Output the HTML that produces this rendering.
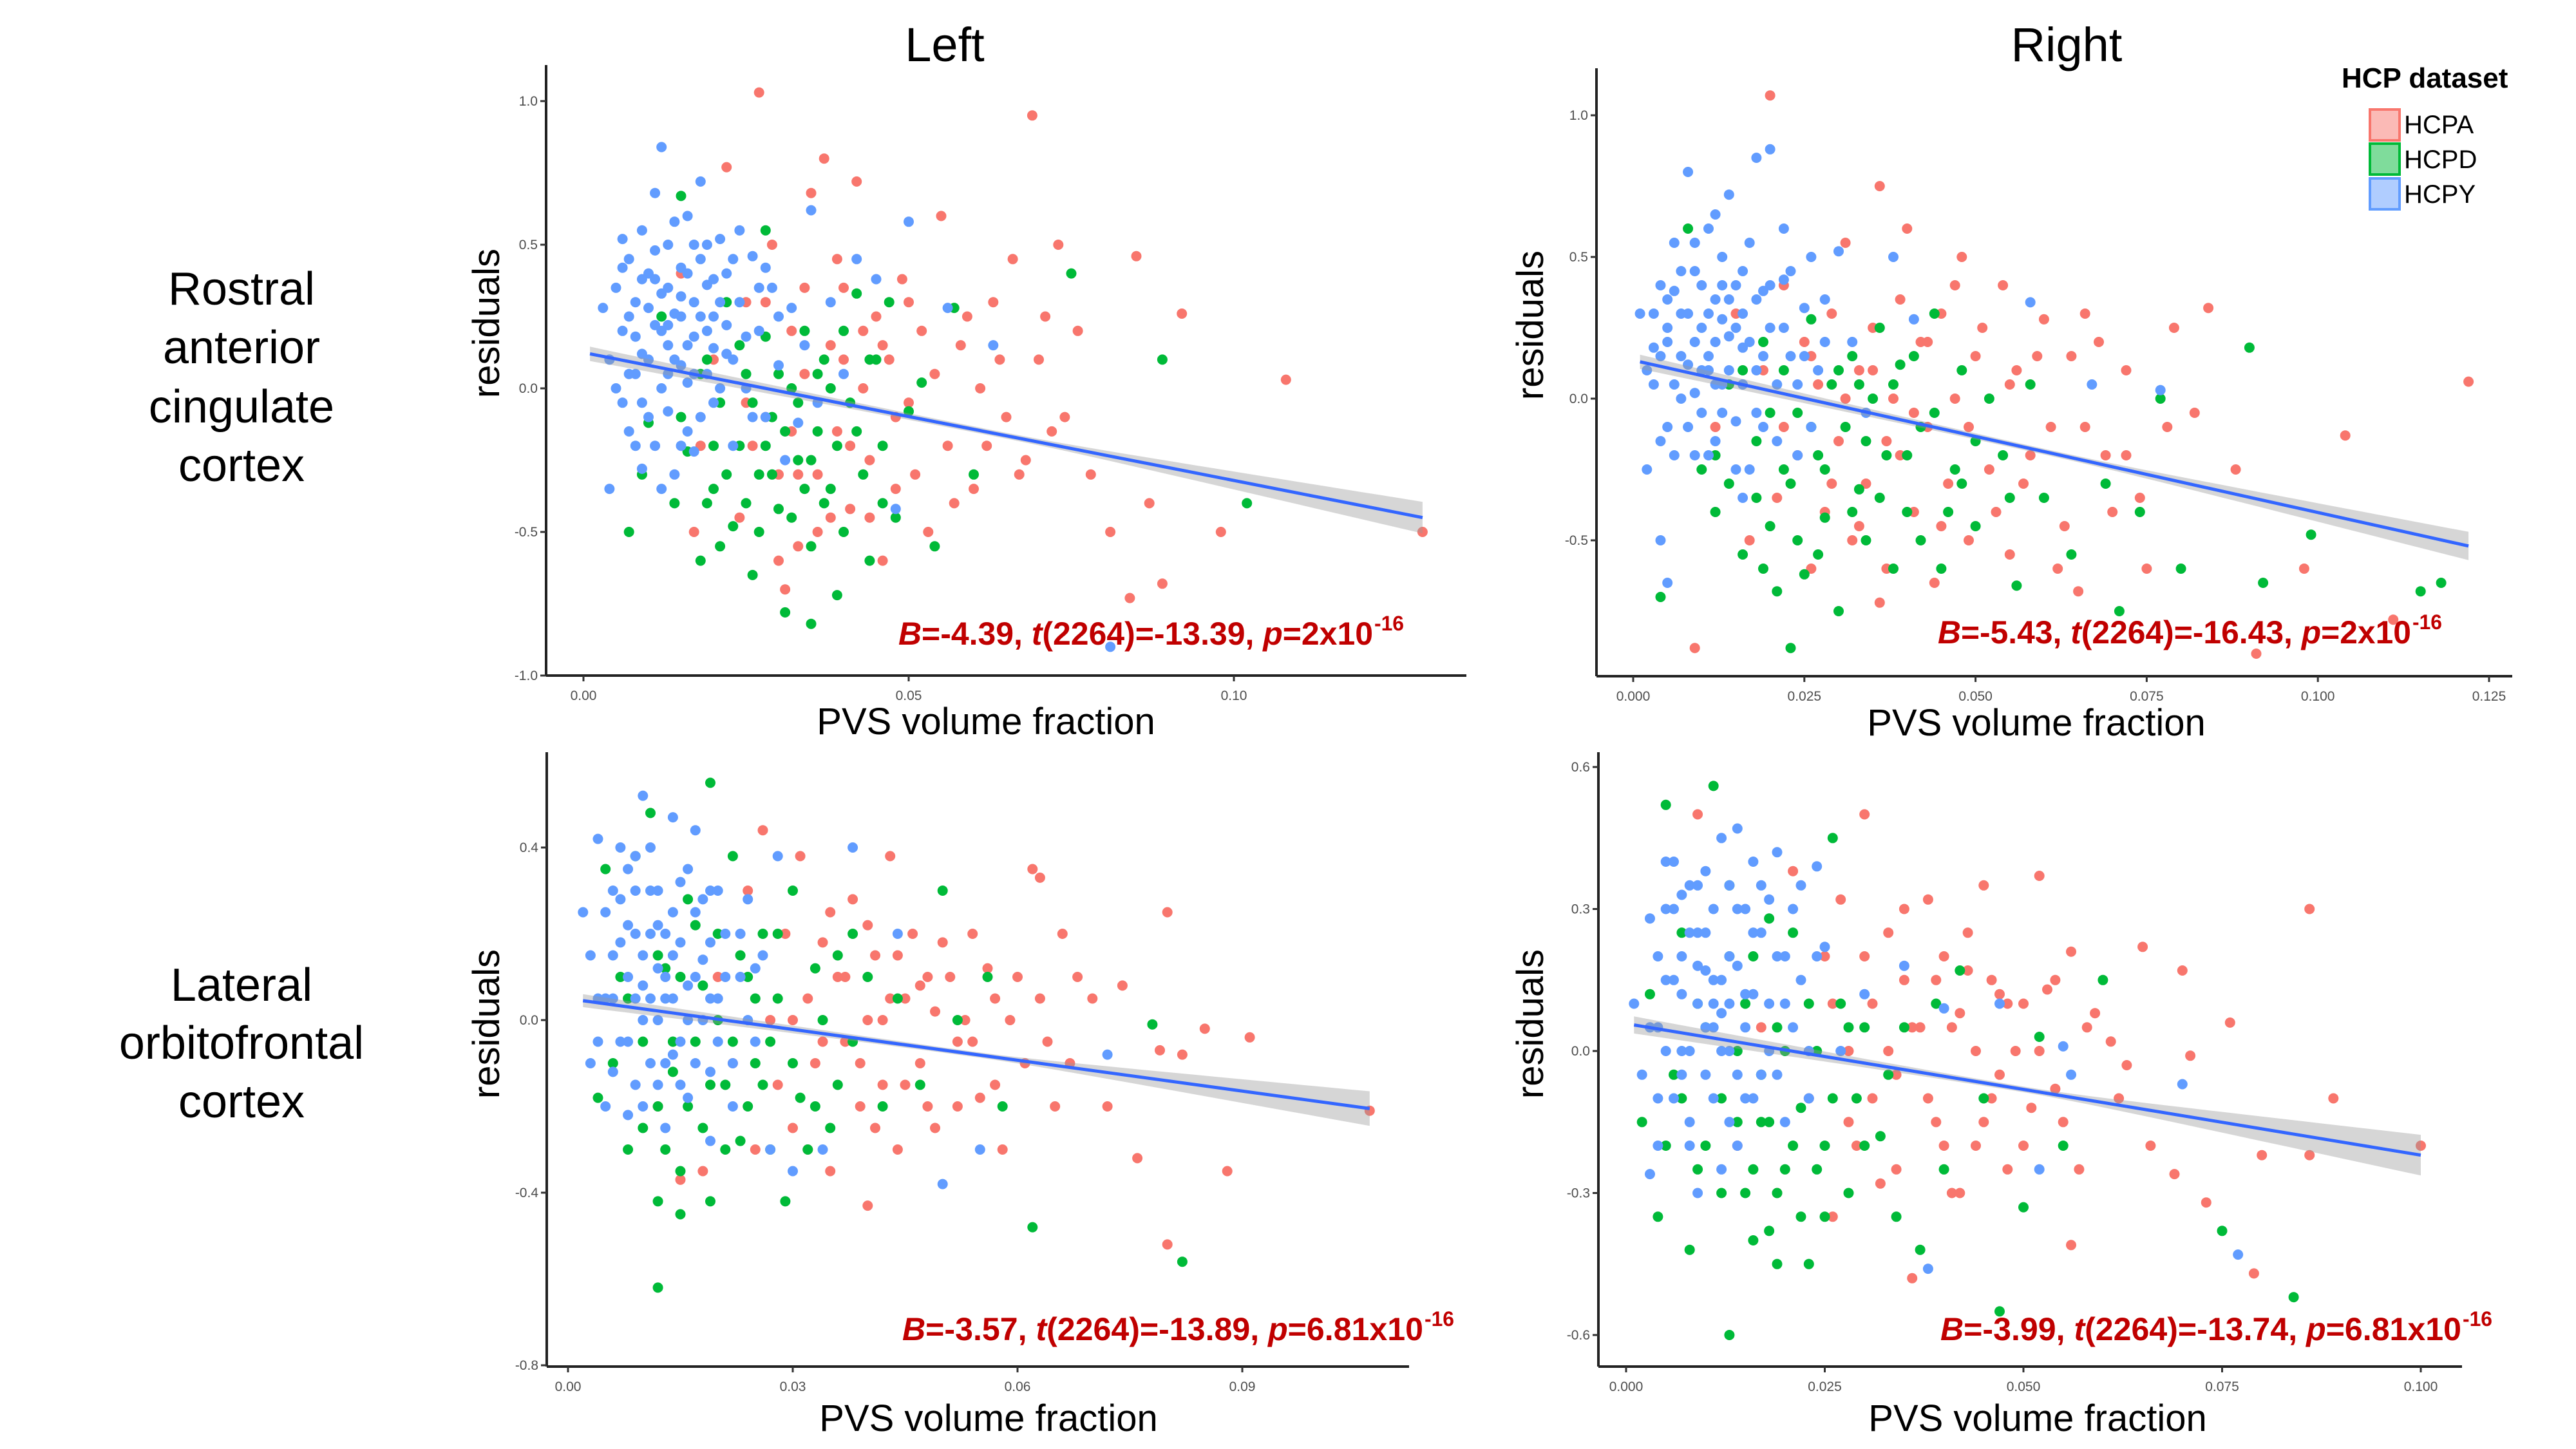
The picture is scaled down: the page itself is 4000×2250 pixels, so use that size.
<!DOCTYPE html>
<html><head><meta charset="utf-8">
<style>
html,body{margin:0;padding:0;background:#fff;}
svg{display:block;font-family:"Liberation Sans",Arial,sans-serif;}
</style></head>
<body>
<svg id="fig" width="4000" height="2250" viewBox="0 0 4000 2250" xmlns="http://www.w3.org/2000/svg">
<rect width="4000" height="2250" fill="#fff"/>
<text x="1467" y="95" font-size="74" text-anchor="middle">Left</text>
<text x="3209" y="95" font-size="74" text-anchor="middle">Right</text>
<g font-size="72" text-anchor="middle">
<text x="375" y="473">Rostral</text><text x="375" y="564">anterior</text><text x="375" y="656">cingulate</text><text x="375" y="747">cortex</text></g>
<g font-size="72" text-anchor="middle">
<text x="375" y="1554">Lateral</text><text x="375" y="1644">orbitofrontal</text><text x="375" y="1735">cortex</text></g>
<g>
<text x="3636" y="136" font-size="44" font-weight="bold">HCP dataset</text>
<rect x="3680" y="170" width="46" height="48" fill="#F8766D" fill-opacity="0.5" stroke="#F8766D" stroke-width="4"/>
<text x="3733" y="207" font-size="40">HCPA</text>
<rect x="3680" y="223" width="46" height="48" fill="#00BA38" fill-opacity="0.5" stroke="#00BA38" stroke-width="4"/>
<text x="3733" y="261" font-size="40">HCPD</text>
<rect x="3680" y="277" width="46" height="48" fill="#619CFF" fill-opacity="0.5" stroke="#619CFF" stroke-width="4"/>
<text x="3733" y="315" font-size="40">HCPY</text>
</g>
</svg>
<script>
// ---- data (x = PVS volume fraction, y = residuals) ----
const tlA=[[0.015,0.4],[0.018,-0.2],[0.020,0.1],[0.022,0.77],[0.024,-0.45],[0.025,0.3],[0.027,1.03],[0.028,-0.1],[0.029,0.5],[0.030,-0.6],[0.032,0.2],[0.033,-0.3],[0.034,0.05],[0.035,0.68],[0.036,-0.5],[0.038,0.15],[0.039,-0.15],[0.040,0.35],[0.041,-0.42],[0.042,0.72],[0.043,0.0],[0.044,-0.25],[0.045,0.25],[0.046,-0.6],[0.047,0.1],[0.048,-0.35],[0.049,0.38],[0.050,-0.05],[0.052,0.2],[0.053,-0.5],[0.055,0.6],[0.056,-0.2],[0.058,0.15],[0.060,-0.35],[0.061,0.0],[0.063,0.3],[0.065,-0.1],[0.066,0.45],[0.068,-0.25],[0.069,0.95],[0.070,0.1],[0.072,-0.15],[0.073,0.5],[0.076,0.2],[0.078,-0.3],[0.081,-0.5],[0.085,0.46],[0.087,-0.4],[0.089,-0.68],[0.092,0.26],[0.098,-0.5],[0.108,0.03],[0.129,-0.5],[0.084,-0.73],[0.037,0.8],[0.031,-0.7],[0.026,-0.2],[0.017,-0.5]];
const tlA2=[[0.025,-0.05],[0.028,0.3],[0.030,-0.3],[0.032,-0.15],[0.034,0.35],[0.036,-0.3],[0.038,-0.45],[0.040,0.1],[0.041,-0.2],[0.043,0.2],[0.044,-0.45],[0.046,0.15],[0.048,-0.1],[0.050,0.3],[0.051,-0.3],[0.054,0.05],[0.057,-0.4],[0.059,0.25],[0.062,-0.2],[0.064,0.1],[0.067,-0.3],[0.071,0.25],[0.074,-0.1],[0.033,-0.55],[0.039,0.45]];
const tlD=[[0.007,-0.5],[0.009,-0.3],[0.010,-0.12],[0.012,0.25],[0.014,-0.4],[0.015,0.67],[0.016,-0.22],[0.018,-0.6],[0.019,0.1],[0.020,-0.35],[0.021,-0.05],[0.022,0.3],[0.023,-0.48],[0.024,-0.2],[0.025,0.05],[0.026,-0.65],[0.027,-0.3],[0.028,0.18],[0.029,-0.1],[0.030,-0.42],[0.031,-0.78],[0.032,0.0],[0.033,-0.25],[0.034,0.2],[0.035,-0.55],[0.036,-0.15],[0.037,0.1],[0.038,-0.35],[0.039,-0.72],[0.040,0.2],[0.041,-0.05],[0.042,0.33],[0.043,-0.3],[0.044,-0.6],[0.045,0.1],[0.046,-0.2],[0.047,0.3],[0.048,-0.45],[0.050,-0.08],[0.052,0.02],[0.054,-0.55],[0.057,0.28],[0.060,-0.3],[0.075,0.4],[0.089,0.1],[0.102,-0.4],[0.028,0.55],[0.035,-0.82],[0.019,-0.4]];
const tlD2=[[0.015,-0.1],[0.018,0.05],[0.020,-0.2],[0.022,-0.3],[0.024,0.15],[0.025,-0.4],[0.026,-0.05],[0.027,-0.5],[0.029,-0.3],[0.030,0.05],[0.032,-0.45],[0.033,-0.05],[0.034,-0.35],[0.036,0.05],[0.037,-0.4],[0.039,-0.2],[0.040,-0.5],[0.042,-0.15],[0.044,0.1],[0.046,-0.4],[0.021,-0.55],[0.028,-0.2],[0.031,-0.15],[0.035,-0.25],[0.038,0.0]];
const tlY=[[0.003,0.28],[0.004,0.1],[0.005,0.35],[0.006,-0.05],[0.006,0.2],[0.007,0.45],[0.007,0.05],[0.008,-0.2],[0.008,0.3],[0.009,0.55],[0.009,0.12],[0.010,-0.1],[0.010,0.4],[0.011,0.22],[0.011,0.68],[0.012,0.0],[0.012,0.33],[0.013,0.5],[0.013,0.15],[0.014,-0.3],[0.014,0.26],[0.015,0.42],[0.015,0.08],[0.016,0.6],[0.016,-0.15],[0.017,0.3],[0.017,0.18],[0.018,0.72],[0.018,0.45],[0.019,0.05],[0.019,0.36],[0.020,-0.05],[0.020,0.25],[0.021,0.52],[0.022,0.12],[0.022,0.4],[0.023,-0.2],[0.024,0.3],[0.025,0.0],[0.026,0.46],[0.027,0.2],[0.028,-0.1],[0.029,0.35],[0.030,0.08],[0.031,-0.25],[0.032,0.28],[0.034,0.15],[0.035,0.62],[0.036,-0.05],[0.038,0.3],[0.040,0.05],[0.042,0.45],[0.045,0.38],[0.050,0.58],[0.056,0.28],[0.063,0.15],[0.012,0.84],[0.004,-0.35],[0.009,-0.28],[0.016,0.02],[0.020,0.14],[0.006,0.52],[0.013,-0.08],[0.024,0.55],[0.011,0.38],[0.017,-0.22],[0.028,0.42],[0.033,-0.12],[0.048,-0.42],[0.081,-0.9]];
const tlY2=[[0.005,0.0],[0.006,0.42],[0.007,-0.15],[0.008,0.18],[0.009,0.38],[0.010,0.1],[0.010,0.28],[0.011,-0.2],[0.011,0.48],[0.012,0.2],[0.012,-0.35],[0.013,0.35],[0.013,0.05],[0.014,0.58],[0.014,0.1],[0.015,0.25],[0.015,-0.2],[0.016,0.4],[0.016,0.15],[0.017,0.5],[0.017,0.05],[0.018,0.25],[0.018,-0.1],[0.019,0.2],[0.019,0.5],[0.020,0.38],[0.021,0.0],[0.021,0.3],[0.022,0.22],[0.023,0.45],[0.023,0.1],[0.025,0.18],[0.026,-0.1],[0.027,0.35],[0.030,0.25],[0.008,0.05],[0.007,0.25],[0.013,0.22],[0.015,0.32],[0.009,-0.05]];
const trA=[[0.009,-0.88],[0.012,-0.1],[0.015,0.3],[0.017,-0.5],[0.019,0.1],[0.020,1.07],[0.021,-0.35],[0.022,0.4],[0.024,-0.2],[0.025,0.2],[0.026,-0.6],[0.027,0.05],[0.028,-0.4],[0.029,0.3],[0.030,-0.15],[0.031,0.55],[0.032,-0.5],[0.033,0.1],[0.034,-0.3],[0.035,0.25],[0.036,0.75],[0.037,-0.6],[0.038,0.0],[0.039,-0.2],[0.040,0.6],[0.041,-0.4],[0.042,0.2],[0.043,-0.1],[0.044,-0.65],[0.045,0.3],[0.046,-0.3],[0.047,0.0],[0.048,0.5],[0.049,-0.5],[0.050,0.15],[0.052,-0.25],[0.054,0.4],[0.055,-0.55],[0.056,0.1],[0.058,-0.2],[0.060,0.28],[0.062,-0.6],[0.064,0.15],[0.066,-0.1],[0.068,0.2],[0.070,-0.4],[0.072,-0.2],[0.075,-0.6],[0.079,0.25],[0.082,-0.05],[0.084,0.32],[0.088,-0.25],[0.091,-0.9],[0.098,-0.6],[0.104,-0.13],[0.111,-0.78],[0.122,0.06],[0.065,-0.68],[0.036,-0.72]];
const trA2=[[0.022,-0.1],[0.026,0.15],[0.029,-0.3],[0.031,0.0],[0.033,-0.45],[0.035,0.1],[0.037,-0.15],[0.039,0.35],[0.041,-0.05],[0.043,0.2],[0.045,-0.45],[0.047,0.4],[0.049,-0.1],[0.051,0.25],[0.053,-0.4],[0.055,0.05],[0.057,-0.3],[0.059,0.15],[0.061,-0.1],[0.063,-0.45],[0.066,0.3],[0.069,-0.2],[0.072,0.1],[0.074,-0.35],[0.078,-0.1]];
const trD=[[0.004,-0.7],[0.008,0.6],[0.010,-0.25],[0.012,-0.4],[0.014,0.05],[0.016,-0.55],[0.018,-0.15],[0.019,0.2],[0.020,-0.45],[0.021,-0.68],[0.022,0.1],[0.023,-0.3],[0.024,-0.05],[0.025,-0.62],[0.026,0.28],[0.027,-0.2],[0.028,-0.42],[0.029,0.05],[0.030,-0.75],[0.031,-0.1],[0.032,0.15],[0.033,-0.32],[0.034,-0.5],[0.035,0.0],[0.036,0.25],[0.037,-0.2],[0.038,-0.6],[0.039,0.12],[0.040,-0.4],[0.042,-0.1],[0.044,0.3],[0.045,-0.6],[0.047,-0.25],[0.048,0.1],[0.050,-0.45],[0.052,0.0],[0.054,-0.2],[0.056,-0.66],[0.058,0.05],[0.060,-0.35],[0.064,-0.55],[0.069,-0.3],[0.071,-0.75],[0.074,-0.4],[0.077,0.0],[0.080,-0.6],[0.090,0.18],[0.092,-0.65],[0.099,-0.48],[0.115,-0.68],[0.118,-0.65],[0.023,-0.88]];
const trD2=[[0.012,-0.2],[0.014,-0.3],[0.016,0.1],[0.018,-0.35],[0.020,-0.05],[0.022,-0.25],[0.024,-0.5],[0.026,-0.1],[0.028,-0.25],[0.030,0.1],[0.032,-0.4],[0.034,-0.15],[0.036,-0.35],[0.038,0.05],[0.040,-0.2],[0.042,-0.5],[0.044,-0.05],[0.046,-0.4],[0.050,-0.15],[0.055,-0.35],[0.019,-0.6],[0.027,-0.55],[0.033,0.05],[0.041,0.15],[0.048,-0.3]];
const trY=[[0.001,0.3],[0.002,-0.25],[0.003,0.05],[0.004,0.4],[0.005,-0.1],[0.005,0.2],[0.006,0.55],[0.007,0.0],[0.007,0.3],[0.008,0.8],[0.008,0.12],[0.009,-0.2],[0.009,0.45],[0.010,0.25],[0.010,-0.05],[0.011,0.6],[0.011,0.15],[0.012,0.35],[0.012,-0.15],[0.013,0.05],[0.013,0.5],[0.014,0.22],[0.014,0.72],[0.015,-0.08],[0.015,0.4],[0.016,0.18],[0.016,0.3],[0.017,-0.25],[0.017,0.55],[0.018,0.1],[0.018,0.85],[0.019,0.38],[0.019,-0.1],[0.020,0.25],[0.020,0.88],[0.021,0.05],[0.022,0.42],[0.023,0.15],[0.024,-0.2],[0.025,0.32],[0.026,0.5],[0.027,0.1],[0.028,0.35],[0.030,0.52],[0.032,0.2],[0.034,-0.05],[0.038,0.5],[0.041,0.28],[0.058,0.34],[0.067,0.05],[0.077,0.03],[0.004,-0.5],[0.005,-0.65],[0.011,0.1],[0.013,0.28],[0.009,0.02],[0.016,-0.35],[0.006,0.38],[0.012,0.65],[0.022,0.6],[0.003,0.18]];
const trY2=[[0.002,0.1],[0.003,0.3],[0.004,-0.15],[0.004,0.15],[0.005,0.35],[0.006,0.05],[0.006,-0.2],[0.007,0.45],[0.007,0.15],[0.008,-0.1],[0.008,0.3],[0.009,0.2],[0.009,0.55],[0.010,0.1],[0.010,0.4],[0.011,-0.2],[0.011,0.3],[0.012,0.05],[0.012,0.2],[0.013,-0.05],[0.013,0.4],[0.014,0.1],[0.014,0.35],[0.015,0.25],[0.015,-0.25],[0.016,0.45],[0.016,0.05],[0.017,0.2],[0.018,0.35],[0.018,-0.05],[0.019,0.15],[0.020,0.4],[0.021,-0.15],[0.022,0.25],[0.023,0.45],[0.024,0.05],[0.025,0.15],[0.026,-0.1],[0.028,0.2],[0.005,0.25]];
const blA=[[0.012,-0.2],[0.015,-0.37],[0.018,-0.35],[0.020,0.1],[0.022,-0.1],[0.024,0.3],[0.025,-0.3],[0.026,0.44],[0.027,0.0],[0.028,-0.15],[0.029,0.2],[0.030,-0.25],[0.031,0.38],[0.032,0.05],[0.033,-0.1],[0.034,0.18],[0.035,-0.35],[0.036,0.1],[0.037,-0.05],[0.038,0.28],[0.039,-0.2],[0.040,0.0],[0.041,0.15],[0.042,-0.15],[0.043,0.38],[0.044,-0.3],[0.045,0.05],[0.046,0.2],[0.047,-0.1],[0.048,0.1],[0.049,-0.25],[0.050,0.18],[0.052,-0.05],[0.053,0.0],[0.054,0.2],[0.055,-0.18],[0.057,0.05],[0.058,-0.3],[0.060,0.1],[0.062,0.35],[0.064,-0.05],[0.066,0.2],[0.067,-0.1],[0.070,0.05],[0.072,-0.2],[0.074,0.08],[0.076,-0.32],[0.079,-0.07],[0.080,0.25],[0.082,-0.08],[0.085,-0.02],[0.088,-0.35],[0.091,-0.04],[0.107,-0.21],[0.080,-0.52],[0.040,-0.43],[0.063,0.33]];
const blA2=[[0.030,0.0],[0.032,-0.3],[0.034,-0.05],[0.035,0.25],[0.037,0.1],[0.039,-0.1],[0.040,0.22],[0.041,-0.25],[0.043,0.05],[0.044,0.15],[0.045,-0.15],[0.047,0.08],[0.048,-0.2],[0.049,0.02],[0.051,0.1],[0.052,-0.2],[0.054,-0.05],[0.056,0.12],[0.057,-0.15],[0.059,0.0],[0.061,-0.1],[0.063,0.05],[0.065,-0.2],[0.068,0.1],[0.042,0.0]];
const blD=[[0.004,-0.18],[0.005,0.35],[0.006,-0.1],[0.007,0.1],[0.008,-0.3],[0.009,0.38],[0.010,-0.05],[0.011,0.48],[0.012,-0.2],[0.012,-0.42],[0.013,0.12],[0.014,-0.12],[0.015,-0.35],[0.016,0.28],[0.017,-0.05],[0.018,-0.25],[0.019,0.55],[0.020,0.0],[0.021,-0.15],[0.022,0.38],[0.023,-0.28],[0.024,0.1],[0.025,-0.1],[0.026,0.2],[0.027,-0.3],[0.028,0.05],[0.029,-0.42],[0.030,0.3],[0.031,-0.18],[0.033,0.12],[0.035,-0.25],[0.036,0.15],[0.038,-0.05],[0.040,0.1],[0.042,-0.2],[0.044,0.05],[0.047,-0.15],[0.050,0.3],[0.052,0.0],[0.056,0.1],[0.058,-0.2],[0.062,-0.48],[0.082,-0.56],[0.078,-0.01],[0.012,-0.62],[0.015,-0.45],[0.019,-0.42]];
const blD2=[[0.008,0.05],[0.010,-0.25],[0.012,0.15],[0.014,-0.05],[0.016,-0.2],[0.018,0.08],[0.019,-0.15],[0.020,0.2],[0.021,-0.3],[0.022,-0.05],[0.023,0.15],[0.024,-0.2],[0.025,0.05],[0.026,-0.15],[0.028,0.2],[0.030,-0.1],[0.032,-0.3],[0.034,0.0],[0.036,-0.15],[0.038,0.2],[0.015,0.1],[0.017,0.22],[0.013,-0.3],[0.027,-0.05],[0.033,-0.2]];
const blY=[[0.002,0.25],[0.003,-0.1],[0.004,0.42],[0.004,0.05],[0.005,-0.2],[0.006,0.15],[0.007,0.28],[0.007,-0.05],[0.008,0.1],[0.008,0.35],[0.009,-0.15],[0.009,0.2],[0.010,0.52],[0.010,0.0],[0.011,0.3],[0.011,-0.1],[0.012,0.12],[0.012,0.22],[0.013,0.05],[0.013,-0.25],[0.014,0.47],[0.014,0.15],[0.015,-0.05],[0.015,0.32],[0.016,0.08],[0.016,-0.18],[0.017,0.25],[0.017,0.44],[0.018,0.0],[0.018,0.14],[0.019,-0.12],[0.019,0.3],[0.020,0.05],[0.021,0.2],[0.022,-0.2],[0.023,0.1],[0.024,0.28],[0.025,-0.05],[0.026,0.15],[0.027,-0.3],[0.028,0.38],[0.030,-0.35],[0.034,-0.3],[0.038,0.4],[0.044,0.2],[0.050,-0.38],[0.055,-0.3],[0.072,-0.08],[0.006,0.3],[0.011,0.05],[0.014,-0.08],[0.009,0.38],[0.019,-0.28],[0.008,-0.22],[0.013,0.2]];
const blY2=[[0.003,0.15],[0.004,-0.05],[0.005,0.25],[0.005,0.05],[0.006,-0.12],[0.007,0.18],[0.007,0.4],[0.008,-0.05],[0.008,0.22],[0.009,0.05],[0.009,0.3],[0.010,0.15],[0.010,-0.2],[0.011,0.2],[0.011,0.4],[0.012,0.0],[0.012,0.3],[0.013,0.1],[0.013,-0.1],[0.014,0.25],[0.014,0.05],[0.015,0.18],[0.015,-0.15],[0.016,0.35],[0.016,0.0],[0.017,0.1],[0.017,-0.1],[0.018,0.28],[0.019,0.05],[0.019,0.18],[0.020,-0.05],[0.020,0.3],[0.021,0.1],[0.022,-0.1],[0.023,0.2],[0.024,0.0],[0.025,0.12],[0.010,0.08],[0.012,-0.15],[0.006,0.05]];
const brA=[[0.009,0.5],[0.014,-0.2],[0.017,0.05],[0.019,-0.3],[0.021,0.38],[0.023,-0.1],[0.025,0.2],[0.026,-0.35],[0.027,0.32],[0.028,0.0],[0.029,-0.2],[0.030,0.5],[0.031,0.1],[0.032,-0.28],[0.033,0.25],[0.034,-0.05],[0.035,0.15],[0.036,-0.48],[0.037,0.05],[0.038,0.32],[0.039,-0.15],[0.040,0.2],[0.041,-0.3],[0.042,0.08],[0.043,0.17],[0.044,-0.2],[0.045,0.35],[0.046,-0.1],[0.047,0.12],[0.048,-0.25],[0.049,0.0],[0.050,0.1],[0.051,-0.12],[0.052,0.37],[0.053,0.13],[0.054,-0.08],[0.056,0.21],[0.057,-0.25],[0.059,0.08],[0.061,0.02],[0.063,-0.03],[0.065,0.22],[0.066,-0.2],[0.070,0.17],[0.071,-0.01],[0.073,-0.32],[0.076,0.06],[0.079,-0.47],[0.080,-0.22],[0.086,0.3],[0.089,-0.1],[0.100,-0.2],[0.086,-0.22],[0.069,-0.26],[0.056,-0.41]];
const brA2=[[0.026,0.1],[0.028,-0.15],[0.030,0.2],[0.031,-0.1],[0.033,0.0],[0.034,-0.25],[0.035,0.3],[0.036,0.05],[0.038,-0.1],[0.039,0.15],[0.040,-0.2],[0.041,0.05],[0.042,-0.3],[0.043,0.25],[0.044,0.0],[0.045,-0.15],[0.046,0.15],[0.047,-0.05],[0.048,0.1],[0.050,-0.2],[0.052,0.0],[0.054,0.15],[0.055,-0.15],[0.058,0.05],[0.062,-0.1]];
const brD=[[0.002,-0.15],[0.003,0.12],[0.004,-0.35],[0.005,0.52],[0.006,-0.05],[0.007,0.25],[0.008,-0.42],[0.009,0.1],[0.010,-0.2],[0.011,0.56],[0.012,-0.1],[0.013,0.35],[0.013,-0.6],[0.014,0.0],[0.015,-0.3],[0.016,0.2],[0.017,-0.15],[0.018,-0.38],[0.019,0.05],[0.020,-0.25],[0.021,0.25],[0.022,-0.12],[0.023,-0.45],[0.024,0.0],[0.025,-0.2],[0.026,0.45],[0.027,0.1],[0.028,-0.3],[0.030,0.05],[0.032,-0.18],[0.034,-0.35],[0.035,0.05],[0.037,-0.42],[0.039,0.1],[0.040,-0.25],[0.042,0.17],[0.045,-0.1],[0.047,-0.55],[0.050,-0.33],[0.052,0.03],[0.055,-0.2],[0.060,0.15],[0.075,-0.38],[0.084,-0.52],[0.018,0.28]];
const brD2=[[0.005,-0.2],[0.007,-0.1],[0.009,-0.25],[0.010,0.05],[0.012,-0.3],[0.014,-0.15],[0.015,0.1],[0.016,-0.25],[0.017,-0.05],[0.018,-0.15],[0.019,-0.3],[0.020,0.0],[0.021,-0.2],[0.022,-0.35],[0.023,0.1],[0.024,-0.25],[0.026,-0.1],[0.028,0.05],[0.030,-0.2],[0.033,-0.05],[0.013,0.2],[0.016,-0.4],[0.019,-0.45],[0.025,-0.35],[0.029,-0.1]];
const brY=[[0.001,0.1],[0.002,-0.05],[0.003,0.28],[0.004,0.05],[0.004,-0.2],[0.005,0.4],[0.005,0.15],[0.006,-0.1],[0.006,0.3],[0.007,0.0],[0.007,0.2],[0.008,0.35],[0.008,-0.15],[0.009,0.1],[0.009,0.25],[0.010,-0.05],[0.010,0.38],[0.011,0.05],[0.011,0.15],[0.012,0.45],[0.012,-0.25],[0.013,0.2],[0.013,0.0],[0.014,0.3],[0.014,0.47],[0.015,-0.1],[0.015,0.12],[0.016,0.4],[0.016,0.25],[0.017,-0.05],[0.018,0.1],[0.018,0.32],[0.019,0.42],[0.020,-0.15],[0.020,0.2],[0.021,0.05],[0.022,0.35],[0.023,-0.1],[0.024,0.39],[0.025,0.22],[0.027,0.0],[0.030,0.12],[0.035,0.18],[0.038,-0.46],[0.040,0.09],[0.047,0.1],[0.052,-0.25],[0.055,0.01],[0.056,-0.05],[0.070,-0.07],[0.077,-0.43],[0.003,-0.26],[0.010,0.17],[0.012,0.08],[0.009,-0.3],[0.014,-0.2],[0.007,0.33]];
const brY2=[[0.003,0.05],[0.004,0.2],[0.004,-0.1],[0.005,0.3],[0.005,0.0],[0.006,0.15],[0.006,0.4],[0.007,-0.05],[0.007,0.12],[0.008,0.25],[0.008,0.0],[0.009,0.18],[0.009,0.35],[0.010,0.05],[0.010,0.25],[0.011,-0.1],[0.011,0.3],[0.012,0.15],[0.012,0.0],[0.013,0.35],[0.013,0.1],[0.014,-0.05],[0.014,0.18],[0.015,0.3],[0.015,0.05],[0.016,-0.1],[0.016,0.12],[0.017,0.25],[0.017,0.35],[0.018,0.0],[0.019,0.2],[0.019,-0.05],[0.020,0.1],[0.021,0.3],[0.022,0.15],[0.023,0.0],[0.024,0.2],[0.008,-0.2],[0.011,0.1],[0.013,-0.15]];
// regression fits: [x start, x end], [y start, y end], band half-widths [start, middle, end]
const fitX=[[0.001,0.129],[0.001,0.122],[0.002,0.107],[0.001,0.100]];
const fitY=[[0.12,-0.45],[0.13,-0.52],[0.045,-0.205],[0.055,-0.22]];
const fitBand=[[0.025,0.01,0.055],[0.025,0.01,0.05],[0.015,0.006,0.04],[0.018,0.006,0.043]];
const xTicksTL=[0,0.05,0.10], xTickLabTL=["0.00","0.05","0.10"];
const yTicksTL=[1,0.5,0,-0.5,-1], yTickLabTL=["1.0","0.5","0.0","-0.5","-1.0"];
const xTicksTR=[0,0.025,0.05,0.075,0.1,0.125], xTickLabTR=["0.000","0.025","0.050","0.075","0.100","0.125"];
const yTicksTR=[1,0.5,0,-0.5], yTickLabTR=["1.0","0.5","0.0","-0.5"];
const xTicksBL=[0,0.03,0.06,0.09], xTickLabBL=["0.00","0.03","0.06","0.09"];
const yTicksBL=[0.4,0,-0.4,-0.8], yTickLabBL=["0.4","0.0","-0.4","-0.8"];
const xTicksBR=[0,0.025,0.05,0.075,0.1], xTickLabBR=["0.000","0.025","0.050","0.075","0.100"];
const yTicksBR=[0.6,0.3,0,-0.3,-0.6], yTickLabBR=["0.6","0.3","0.0","-0.3","-0.6"];
const statB=["-4.39","-5.43","-3.57","-3.99"];
const statT=["-13.39","-16.43","-13.89","-13.74"];
const statP=["2","2","6.81","6.81"];

const NS="http://www.w3.org/2000/svg";
const svg=document.getElementById('fig');
function mk(tag,attrs,parent){const e=document.createElementNS(NS,tag);for(const k in attrs)e.setAttribute(k,attrs[k]);(parent||svg).appendChild(e);return e;}

const panels=[
 {id:'rostral-left',ax:848,ay:1049,top:101,right:2277,xa:[0,906,0.10,1916],ya:[1,157,-1,1049],xt:xTicksTL,xl:xTickLabTL,yt:yTicksTL,yl:yTickLabTL,A:tlA.concat(tlA2),D:tlD.concat(tlD2),Y:tlY.concat(tlY2),rx:755,ry:502,lx:1531,lyb:1140,sx0:1395,sx1:2182,sb:1001},
 {id:'rostral-right',ax:2479,ay:1050,top:106,right:3901,xa:[0,2536,0.125,3865],ya:[1,179,-0.5,839],xt:xTicksTR,xl:xTickLabTR,yt:yTicksTR,yl:yTickLabTR,A:trA.concat(trA2),D:trD.concat(trD2),Y:trY.concat(trY2),rx:2376,ry:505,lx:3162,lyb:1142,sx0:3009,sx1:3794,sb:999},
 {id:'lateral-left',ax:849,ay:2122,top:1168,right:2188,xa:[0,882,0.09,1929],ya:[0.4,1316,-0.8,2120],xt:xTicksBL,xl:xTickLabBL,yt:yTicksBL,yl:yTickLabBL,A:blA.concat(blA2),D:blD.concat(blD2),Y:blY.concat(blY2),rx:755,ry:1590,lx:1535,lyb:2222,sx0:1401,sx1:2260,sb:2081},
 {id:'lateral-right',ax:2482,ay:2122,top:1168,right:3823,xa:[0,2525,0.1,3759],ya:[0.6,1191,-0.6,2073],xt:xTicksBR,xl:xTickLabBR,yt:yTicksBR,yl:yTickLabBR,A:brA.concat(brA2),D:brD.concat(brD2),Y:brY.concat(brY2),rx:2376,ry:1590,lx:3164,lyb:2222,sx0:3013,sx1:3872,sb:2081}
];
const COL={A:'#F8766D',D:'#00BA38',Y:'#619CFF'};
const GNAME={A:'hcpa',D:'hcpd',Y:'hcpy'};

panels.forEach((p,pi)=>{
  const g=mk('g',{});
  
  
  const X=v=>p.xa[1]+(v-p.xa[0])*(p.xa[3]-p.xa[1])/(p.xa[2]-p.xa[0]);
  const Yf=v=>p.ya[1]+(v-p.ya[0])*(p.ya[3]-p.ya[1])/(p.ya[2]-p.ya[0]);
  ['A','D','Y'].forEach(k=>{
    const sg=mk('g',{fill:COL[k]},g);
    
    
    p[k].forEach(pt=>{
      const c=mk('circle',{cx:X(pt[0]).toFixed(1),cy:Yf(pt[1]).toFixed(1),r:8},sg);
      
      
    });
  });
  const fx=fitX[pi],fy=fitY[pi],fb=fitBand[pi];
  const xm=(fx[0]+fx[1])/2, half=(fx[1]-fx[0])/2;
  const up=[],dn=[];
  for(let i=0;i<=40;i++){
    const xv=fx[0]+(fx[1]-fx[0])*i/40;
    const yv=fy[0]+(fy[1]-fy[0])*i/40;
    const d=(xv-xm)/half;
    const hEnd=d<0?fb[0]:fb[2];
    const hw=Math.sqrt(fb[1]*fb[1]+(hEnd*hEnd-fb[1]*fb[1])*d*d);
    up.push(X(xv).toFixed(1)+','+Yf(yv+hw).toFixed(1));
    dn.unshift(X(xv).toFixed(1)+','+Yf(yv-hw).toFixed(1));
  }
  const band=mk('polygon',{points:up.concat(dn).join(' '),fill:'#999',"fill-opacity":0.4},g);
  
  
  const ln=mk('line',{x1:X(fx[0]),y1:Yf(fy[0]),x2:X(fx[1]),y2:Yf(fy[1]),stroke:'#3366FF','stroke-width':5},g);
  
  
  const xa=mk('line',{x1:p.ax,y1:p.ay,x2:p.right,y2:p.ay,stroke:'#222','stroke-width':4},g);
  
  
  const ya=mk('line',{x1:p.ax,y1:p.top,x2:p.ax,y2:p.ay,stroke:'#222','stroke-width':4},g);
  
  
  p.xt.forEach((v,i)=>{
    mk('line',{x1:X(v),y1:p.ay,x2:X(v),y2:p.ay+9,stroke:'#333','stroke-width':3},g);
    const t=mk('text',{x:X(v),y:p.ay+38,'font-size':21,'text-anchor':'middle',fill:'#4d4d4d'},g);
    t.textContent=p.xl[i];
    
    
  });
  p.yt.forEach((v,i)=>{
    mk('line',{x1:p.ax-9,y1:Yf(v),x2:p.ax,y2:Yf(v),stroke:'#333','stroke-width':3},g);
    const t=mk('text',{x:p.ax-13,y:Yf(v)+7,'font-size':21,'text-anchor':'end',fill:'#4d4d4d'},g);
    t.textContent=p.yl[i];
    
    
  });
  const yt=mk('text',{x:p.rx,y:p.ry,'font-size':58,'text-anchor':'middle',transform:'rotate(-90 '+p.rx+' '+p.ry+')',dy:20},g);
  yt.textContent='residuals';
  
  
  const xt=mk('text',{x:p.lx,y:p.lyb,'font-size':58,'text-anchor':'middle'},g);
  xt.textContent='PVS volume fraction';
  
  
  const sw=p.sx1-p.sx0-50;
  const st=mk('text',{x:p.sx0,y:p.sb,'font-size':50,'font-weight':'bold',fill:'#C00000',textLength:sw,lengthAdjust:'spacingAndGlyphs'},g);
  
  
  const parts=[['B',1],['='+statB[pi]+', ',0],['t',1],['(2264)='+statT[pi]+', ',0],['p',1],['='+statP[pi]+'x10',0]];
  parts.forEach(pp=>{const ts=mk('tspan',pp[1]?{'font-style':'italic'}:{},st);ts.textContent=pp[0];});
  const sup=mk('text',{x:p.sx1-48,y:p.sb-22,'font-size':32,'font-weight':'bold',fill:'#C00000',textLength:46,lengthAdjust:'spacingAndGlyphs'},g);
  sup.textContent='-16';
  
  
});
</script>
</body></html>
